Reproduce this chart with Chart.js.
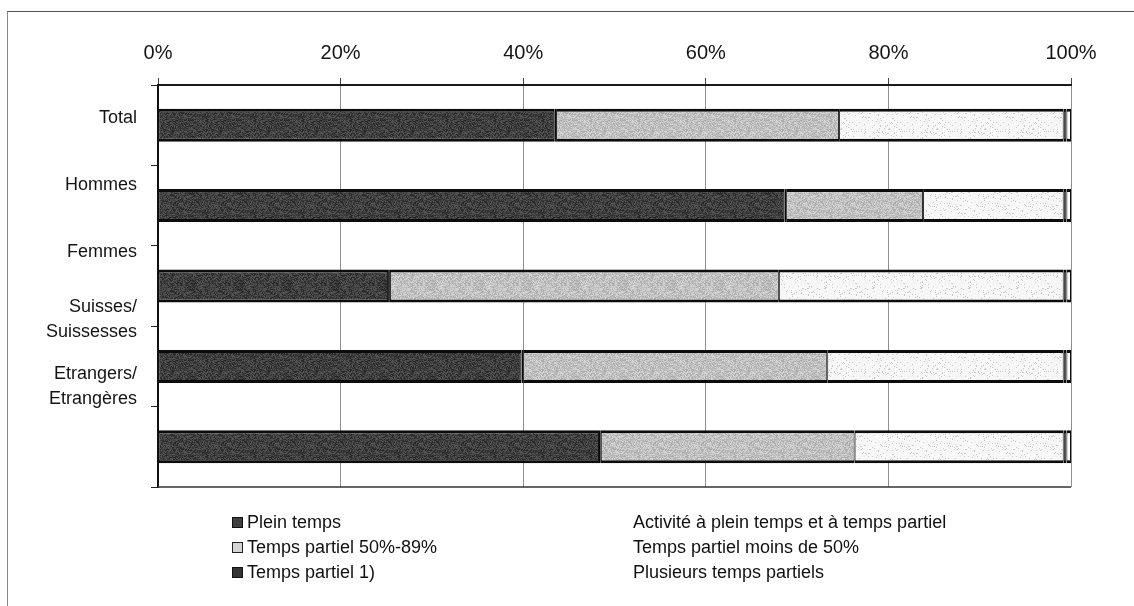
<!DOCTYPE html>
<html>
<head>
<meta charset="utf-8">
<script src="https://cdn.jsdelivr.net/npm/chart.js@4.4.0/dist/chart.umd.min.js"></script>
<style>
  html, body { margin: 0; padding: 0; background: #fff; }
  #wrap { position: relative; width: 1134px; height: 606px; overflow: hidden;
          font-family: "Liberation Sans", Arial, sans-serif; }
  #frame { position: absolute; left: 7px; top: 11px; right: -4px; bottom: -4px;
           border-top: 1px solid #555; border-left: 1px solid #888; }
  #chart { position: absolute; left: 0; top: 0; }
  #legend { position: absolute; top: 510px; left: 232px; display: grid;
            grid-template-columns: 386px auto; grid-template-rows: repeat(3, 25px);
            grid-auto-flow: column; font-size: 18px; color: #111; }
  .item { display: flex; align-items: center; white-space: nowrap; }
  .sw { width: 11px; height: 11px; margin-right: 4px; box-sizing: border-box; }
</style>
</head>
<body>
<div id="wrap">
  <div id="frame"></div>
  <canvas id="chart" width="1134" height="606"></canvas>
  <div id="legend"></div>
</div>
<script>
// Groups shown as horizontal 100% bars, top to bottom
const categories = ['Total', 'Hommes', 'Femmes', 'Suisses/Suissesses', 'Etrangers/Etrangères'];
// Left-hand labels (last slot intentionally blank)
const sideLabels = ['Total', 'Hommes', 'Femmes', ['Suisses/', 'Suissesses'], ['Etrangers/', 'Etrangères'], ''];
// Percentage ticks on the top axis
const tickValues = [0, 20, 40, 60, 80, 100];

// Shares by type of employment (%)
const pleinTemps        = [43.4, 68.6, 25.2, 39.8, 48.3];
const activiteMixte     = [0.2, 0.2, 0.2, 0.2, 0.2];
const partiel50a89      = [31.0, 15.0, 42.6, 33.3, 27.8];
const partielMoins50    = [24.6, 15.4, 31.2, 25.9, 22.9];
const partielNote       = [0.3, 0.3, 0.3, 0.3, 0.3];
const plusieursPartiels = [0.5, 0.5, 0.5, 0.5, 0.5];

const FONT = '"Liberation Sans", Arial, sans-serif';
const ink = '#141414';

// Grainy print-style fill: a small tile with a deterministic speckle
function grain(base, spread, speckle) {
  const size = 48;
  const c = document.createElement('canvas');
  c.width = c.height = size;
  const g = c.getContext('2d');
  const img = g.createImageData(size, size);
  for (let y = 0; y < size; y++) {
    for (let x = 0; x < size; x++) {
      let h = (x * 374761393 + y * 668265263) | 0;
      h = Math.imul(h ^ (h >>> 13), 1274126177);
      h = (h ^ (h >>> 16)) >>> 0;
      const t = (h % 1000) / 1000;
      let v = base + (t - 0.5) * 2 * spread;
      if (speckle && t > 0.93) v = base - speckle;
      v = Math.max(0, Math.min(255, Math.round(v)));
      const k = (y * size + x) * 4;
      img.data[k] = img.data[k + 1] = img.data[k + 2] = v;
      img.data[k + 3] = 255;
    }
  }
  g.putImageData(img, 0, 0);
  return document.getElementById('chart').getContext('2d').createPattern(c, 'repeat');
}

const darkFill  = grain(62, 28, 0);
const grayFill  = grain(192, 26, 0);
const lightFill = grain(247, 6, 45);

function series(label, data, fill, swatch) {
  return {
    label, data,
    backgroundColor: fill,
    borderColor: '#0c0c0c',
    borderWidth: { top: 3, bottom: 3, left: 1, right: 1 },
    borderSkipped: false,
    barPercentage: 0.41,
    categoryPercentage: 1.0,
    swatch
  };
}

const datasets = [
  series('Plein temps', pleinTemps, darkFill, { bg: '#3f3f3f', border: '#111' }),
  series('Activité à plein temps et à temps partiel', activiteMixte, '#ffffff', null),
  series('Temps partiel 50%-89%', partiel50a89, grayFill, { bg: '#d4d4d4', border: '#222' }),
  series('Temps partiel moins de 50%', partielMoins50, lightFill, null),
  series('Temps partiel 1)', partielNote, '#2a2a2a', { bg: '#333', border: '#111' }),
  series('Plusieurs temps partiels', plusieursPartiels, '#ffffff', null)
];

// Frame line along the bottom of the plot area
const plotFrame = {
  id: 'plotFrame',
  afterDatasetsDraw(chart) {
    const { ctx, chartArea: a } = chart;
    ctx.save();
    ctx.strokeStyle = '#333';
    ctx.lineWidth = 1.5;
    ctx.beginPath();
    ctx.moveTo(a.left, a.bottom);
    ctx.lineTo(a.right, a.bottom);
    ctx.stroke();
    ctx.restore();
  }
};

new Chart(document.getElementById('chart'), {
  type: 'bar',
  data: { labels: categories, datasets },
  plugins: [plotFrame],
  options: {
    indexAxis: 'y',
    responsive: false,
    animation: false,
    layout: { padding: { left: 0, right: 63, top: 28, bottom: 119 } },
    plugins: { legend: { display: false }, tooltip: { enabled: false } },
    scales: {
      x: {
        type: 'linear', position: 'top', stacked: true, min: 0, max: 100,
        afterBuildTicks(s) { s.ticks = tickValues.map(v => ({ value: v })); },
        ticks: { callback: v => v + '%', font: { size: 20, family: FONT }, color: ink, padding: 13 },
        grid: { color: '#8e8e8e', lineWidth: 1, tickLength: 7, tickColor: '#444' },
        border: { color: '#1a1a1a', width: 2 }
      },
      y: {
        type: 'category', stacked: true, weight: 0,
        ticks: { display: false },
        grid: { drawOnChartArea: false, tickLength: 7, color: '#222', offset: true },
        border: { color: '#111', width: 2 }
      },
      yl: {
        type: 'category', position: 'left', weight: 1, labels: sideLabels, offset: true,
        grid: { display: false, drawTicks: false }, border: { display: false },
        ticks: { padding: 14, font: { size: 18, family: FONT, lineHeight: 1.35 }, color: ink, autoSkip: false },
        afterFit(s) { s.width = 151; }
      }
    }
  }
});

// Two-column legend built from the series
const legendOrder = [0, 2, 4, 1, 3, 5];
const legend = document.getElementById('legend');
legendOrder.forEach(i => {
  const ds = datasets[i];
  const item = document.createElement('div');
  item.className = 'item';
  const sw = document.createElement('span');
  sw.className = 'sw';
  if (ds.swatch) {
    sw.style.background = ds.swatch.bg;
    sw.style.border = '1px solid ' + ds.swatch.border;
  }
  item.appendChild(sw);
  item.appendChild(document.createTextNode(ds.label));
  legend.appendChild(item);
});
</script>
</body>
</html>
